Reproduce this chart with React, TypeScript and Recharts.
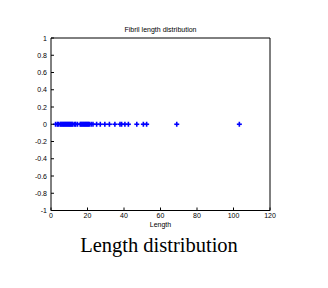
import { Scatter, ScatterChart, XAxis, YAxis } from 'recharts';

// fibril lengths (all sit on y = 0)
const LENGTHS = [
	2.5, 3.5, 4, 5, 5.5, 6, 6.5, 7, 7.5, 8, 8.5, 9, 9.5, 10, 10.5, 11, 11.5, 12, 13, 13.5, 14.5, 16, 16.5,
	17, 17.5, 18, 18.5, 19, 19.5, 20, 20.5, 21, 22, 23, 25, 27, 29.5, 32, 35, 37.8, 38.7, 40.5, 42.4, 47,
	50.6, 52.4, 68.9, 103.2,
];
const X_TICKS = [0, 20, 40, 60, 80, 100, 120];
const Y_TICKS = [-1, -0.8, -0.6, -0.4, -0.2, 0, 0.2, 0.4, 0.6, 0.8, 1];

const TITLE = 'Fibril length distribution';
const X_LABEL = 'Length';
const CAPTION = 'Length distribution';

const points = LENGTHS.map((length) => ({ x: length, y: 0 }));

const FONT = '"Liberation Sans", Arial, sans-serif';
const TICK_FONT_SIZE = 7;
const TICK_LEN = 3;
const MARKER_COLOR = '#0000ff';

const fmtY = (v: number) => (v === 0 ? '0' : String(Number(v.toFixed(1))));

function BottomTick({ x, y, payload }: any) {
	return (
		<g>
			<line x1={x} y1={y} x2={x} y2={y - TICK_LEN} stroke="#000" />
			<text x={x} y={y + 7} textAnchor="middle" fontSize={TICK_FONT_SIZE} fontFamily={FONT} fill="#000">
				{payload.value}
			</text>
		</g>
	);
}

function LeftTick({ x, y, payload }: any) {
	return (
		<g>
			<line x1={x} y1={y} x2={x + TICK_LEN} y2={y} stroke="#000" />
			<text x={x - 4} y={y + 2.5} textAnchor="end" fontSize={TICK_FONT_SIZE} fontFamily={FONT} fill="#000">
				{fmtY(payload.value)}
			</text>
		</g>
	);
}

function TopTick({ x, y }: any) {
	return <line x1={x} y1={y} x2={x} y2={y + TICK_LEN} stroke="#000" />;
}

function RightTick({ x, y }: any) {
	return <line x1={x} y1={y} x2={x - TICK_LEN} y2={y} stroke="#000" />;
}

function PlusMarker({ cx, cy }: any) {
	return (
		<g stroke={MARKER_COLOR} strokeWidth={1.6}>
			<line x1={cx - 2.5} y1={cy} x2={cx + 2.5} y2={cy} />
			<line x1={cx} y1={cy - 2.5} x2={cx} y2={cy + 2.5} />
		</g>
	);
}

export default function App() {
	return (
		<div style={{ position: 'absolute', left: 0, top: 0, width: 328, height: 288, background: '#fff' }}>
			<ScatterChart width={328} height={240} margin={{ top: 37, right: 57, bottom: 0, left: 50 }}>
				<XAxis
					xAxisId="bottom"
					type="number"
					dataKey="x"
					domain={[0, 120]}
					ticks={X_TICKS}
					orientation="bottom"
					height={29.5}
					tickSize={0}
					tickMargin={0}
					tickLine={false}
					axisLine={{ stroke: '#000' }}
					tick={<BottomTick />}
					interval={0}
				/>
				<XAxis
					xAxisId="top"
					type="number"
					domain={[0, 120]}
					ticks={X_TICKS}
					orientation="top"
					height={1}
					tickSize={0}
					tickMargin={0}
					tickLine={false}
					axisLine={{ stroke: '#000' }}
					tick={<TopTick />}
					interval={0}
				/>
				<YAxis
					yAxisId="left"
					type="number"
					dataKey="y"
					domain={[-1, 1]}
					ticks={Y_TICKS}
					width={1}
					tickSize={0}
					tickMargin={0}
					tickLine={false}
					axisLine={{ stroke: '#000' }}
					tick={<LeftTick />}
					interval={0}
				/>
				<YAxis
					yAxisId="right"
					type="number"
					domain={[-1, 1]}
					ticks={Y_TICKS}
					orientation="right"
					width={1}
					tickSize={0}
					tickMargin={0}
					tickLine={false}
					axisLine={{ stroke: '#000' }}
					tick={<RightTick />}
					interval={0}
				/>
				<Scatter
					data={points}
					xAxisId="bottom"
					yAxisId="left"
					shape={<PlusMarker />}
					isAnimationActive={false}
				/>
				<text x={160.5} y={32} textAnchor="middle" fontSize={7} fontFamily={FONT} fill="#000">
					{TITLE}
				</text>
				<text x={160.5} y={227} textAnchor="middle" fontSize={7} fontFamily={FONT} fill="#000">
					{X_LABEL}
				</text>
			</ScatterChart>
			<div
				style={{
					position: 'absolute',
					left: 0,
					width: 318,
					top: 233,
					textAlign: 'center',
					fontFamily: '"Liberation Serif", "Times New Roman", serif',
					fontSize: 20.5,
					lineHeight: '24px',
					color: '#000',
				}}
			>
				{CAPTION}
			</div>
		</div>
	);
}
